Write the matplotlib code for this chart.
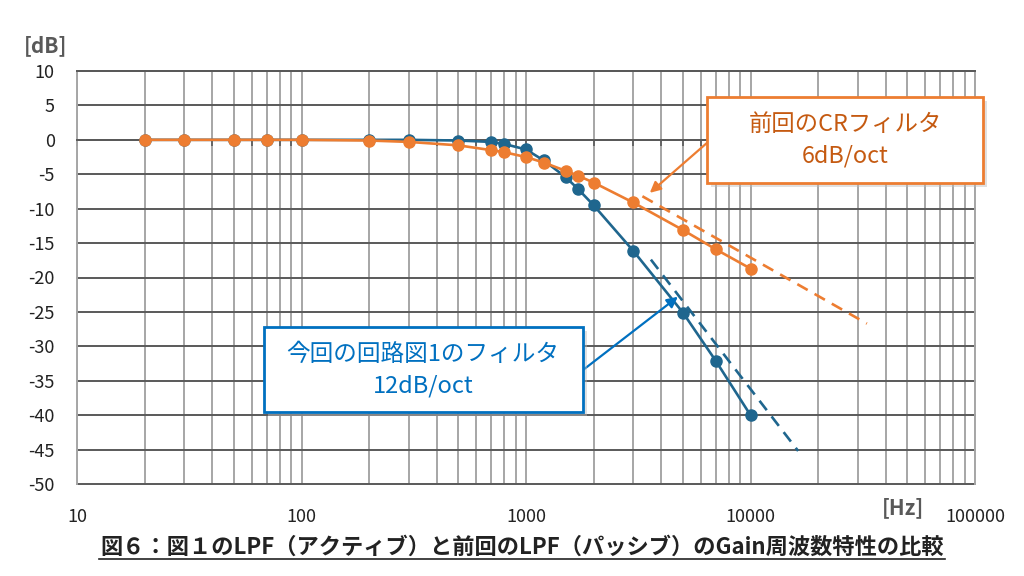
import matplotlib
matplotlib.use("Agg")
import matplotlib.pyplot as plt
from matplotlib.patches import Rectangle
from matplotlib.lines import Line2D

plt.rcParams['font.family'] = ['Noto Sans CJK JP', 'DejaVu Sans']

# ---- data ----
freq_orange = [20, 30, 50, 70, 100, 200, 300, 500, 700, 800, 1000, 1200, 1500, 1700, 2000, 3000, 5000, 7000, 10000]
gain_orange = [0, 0, 0, 0, 0, -0.1, -0.3, -0.8, -1.5, -1.8, -2.5, -3.3, -4.5, -5.2, -6.2, -9.1, -13.1, -15.9, -18.7]

freq_blue = [20, 30, 50, 70, 100, 200, 300, 500, 700, 800, 1000, 1200, 1500, 1700, 2000, 3000, 5000, 7000, 10000]
gain_blue = [0, 0, 0, 0, 0, 0, 0, -0.1, -0.3, -0.6, -1.4, -3.0, -5.4, -7.1, -9.5, -16.1, -25.1, -32.1, -40.0]

asym_orange_f = [3300, 33000]
asym_orange_g = [-8.2, -26.7]
asym_blue_f = [3600, 16300]
asym_blue_g = [-17.4, -45.2]

x_ticks = [10, 100, 1000, 10000, 100000]
x_tick_labels = ['10', '100', '1000', '10000', '100000']
y_ticks = list(range(-50, 11, 5))

label_orange = "前回のCRフィルタ\n6dB/oct"
label_blue = "今回の回路図1のフィルタ\n12dB/oct"
caption = "図６：図１のLPF（アクティブ）と前回のLPF（パッシブ）のGain周波数特性の比較"

C_OR = '#ED7D31'
C_BL = '#1F668E'
C_OR_TXT = '#C55A11'
C_BL_BOX = '#0070C0'
GRID_V = '#A6A6A6'
GRID_H = '#595959'

W, H = 1024, 576
fig = plt.figure(figsize=(W / 100, H / 100), dpi=100)
ax = fig.add_axes([77 / W, 1 - 484 / H, (975 - 77) / W, (484 - 71) / H])

ax.set_xscale('log')
ax.set_xlim(10, 100000)
ax.set_ylim(-50, 10)
ax.set_yticks(y_ticks)
ax.set_yticklabels([str(v) for v in y_ticks])

ax.grid(True, which='both', axis='x', color=GRID_V, lw=1.4)
ax.grid(True, which='major', axis='y', color=GRID_H, lw=1.4)
for gl in ax.get_ygridlines():
    gl.set_clip_on(False)
ax.set_axisbelow(True)

for s in ['left', 'right']:
    ax.spines[s].set_color(GRID_V)
    ax.spines[s].set_linewidth(1.4)
ax.spines['top'].set_color(GRID_H)
ax.spines['top'].set_linewidth(1.4)
ax.spines['bottom'].set_position(('data', 0))
ax.spines['bottom'].set_color(GRID_H)
ax.spines['bottom'].set_linewidth(1.4)

ax.tick_params(axis='x', which='both', direction='out', length=4, width=1.2,
               color=GRID_H, labelbottom=False)
ax.tick_params(axis='y', length=0, pad=16, labelsize=13, labelcolor='#222222')

sec = ax.secondary_xaxis('bottom')
sec.set_xticks(x_ticks)
sec.set_xticklabels(x_tick_labels)
sec.tick_params(axis='x', which='both', length=0, pad=17, labelsize=13, labelcolor='#222222')
sec.spines['bottom'].set_visible(False)

# data
ax.plot(freq_blue, gain_blue, color=C_BL, lw=1.9, marker='o', ms=8, zorder=3)
ax.plot(freq_orange, gain_orange, color=C_OR, lw=1.9, marker='o', ms=8, zorder=4)
ax.plot(asym_orange_f, asym_orange_g, color=C_OR, lw=1.9, ls=(0, (4.5, 3)), zorder=3)
ax.plot(asym_blue_f, asym_blue_g, color=C_BL, lw=1.9, ls=(0, (4.5, 3)), zorder=3)

# callout boxes
def box(x0, y0, x1, y1, ec):
    sh = Rectangle((x0 / W + 4 / W, 1 - y1 / H - 4 / H), (x1 - x0) / W, (y1 - y0) / H,
                   transform=fig.transFigure, fc='#BBBBBB', ec='none', alpha=0.45, zorder=5)
    fig.patches.append(sh)
    r = Rectangle((x0 / W, 1 - y1 / H), (x1 - x0) / W, (y1 - y0) / H,
                  transform=fig.transFigure, fc='white', ec=ec, lw=2, zorder=6)
    fig.patches.append(r)

box(707, 97, 983, 183, C_OR)
box(264, 327, 583, 412, C_BL_BOX)

fig.text(845 / W, 1 - 140 / H, label_orange, ha='center', va='center', fontsize=16.8,
         color=C_OR_TXT, linespacing=1.45, zorder=7)
fig.text(423 / W, 1 - 370 / H, label_blue, ha='center', va='center', fontsize=17,
         color=C_BL_BOX, linespacing=1.45, zorder=7)

ax.annotate('', xy=(3560, -7.7), xycoords='data',
            xytext=(708 / W, 1 - 142 / H), textcoords='figure fraction',
            arrowprops=dict(arrowstyle='-|>', color=C_OR, lw=1.6, mutation_scale=16,
                            shrinkA=0, shrinkB=0), zorder=8, annotation_clip=False)
ax.annotate('', xy=(4750, -22.8), xycoords='data',
            xytext=(583 / W, 1 - 370 / H), textcoords='figure fraction',
            arrowprops=dict(arrowstyle='-|>', color=C_BL_BOX, lw=1.6, mutation_scale=16,
                            shrinkA=0, shrinkB=0), zorder=8, annotation_clip=False)

# unit labels
fig.text(46 / W, 1 - 46 / H, '[dB]', ha='center', va='center', fontsize=15,
         fontweight='bold', color='#595959')
fig.text(903 / W, 1 - 508 / H, '[Hz]', ha='center', va='center', fontsize=15,
         fontweight='bold', color='#595959')

# caption
fig.text(522 / W, 1 - 547 / H, caption, ha='center', va='center', fontsize=16,
         fontweight='bold', color='#222222')
fig.lines.append(Line2D([99 / W, 945 / W], [1 - 559 / H, 1 - 559 / H],
                        transform=fig.transFigure, color='#222222', lw=1.2))

fig.savefig('out.png', dpi=100)
